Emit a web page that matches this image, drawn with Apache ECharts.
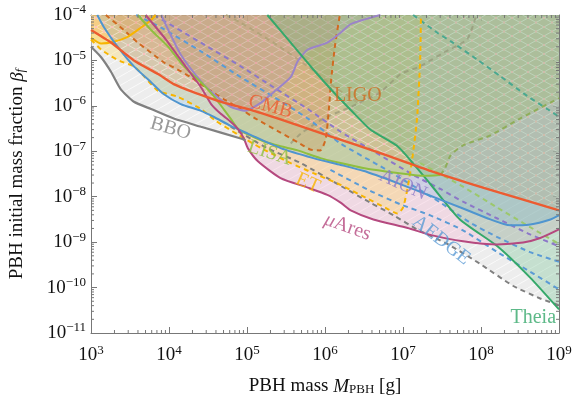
<!DOCTYPE html>
<html><head><meta charset="utf-8">
<script src="https://cdn.jsdelivr.net/npm/echarts@6/dist/echarts.min.js"></script>
<style>html,body{margin:0;padding:0;background:#fff}#c{width:576px;height:401px}</style>
</head><body><div id="c"></div>
<script>
// Values, as [log10(M_PBH / g), log10(beta_f)]
const xTicks = [3, 4, 5, 6, 7, 8, 9];
const yTicks = [-11, -10, -9, -8, -7, -6, -5, -4];
const bbo = [[3.00,-4.70],[3.13,-4.93],[3.26,-5.26],[3.38,-5.63],[3.55,-5.91],[3.77,-6.07],[4.06,-6.28],[4.41,-6.46],[4.92,-6.72],[4.98,-6.76]];
const muAres = [[3.70,-4.00],[3.96,-4.54],[4.22,-5.15],[4.41,-5.59],[4.54,-5.96],[4.66,-6.17],[4.79,-6.35],[4.88,-6.50],[4.96,-6.72],[5.01,-6.93],[5.14,-7.22],[5.43,-7.59],[5.78,-7.80],[6.03,-7.96],[6.20,-8.13],[6.33,-8.30],[6.62,-8.50],[7.06,-8.69],[7.35,-8.84],[7.77,-8.98],[8.21,-9.05],[8.54,-9.01],[8.76,-8.91],[9.00,-8.72]];
const grayDashed = [[4.79,-6.46],[5.26,-6.93],[5.69,-7.26],[6.20,-7.76],[6.58,-8.13],[6.88,-8.41],[7.18,-8.72],[7.57,-9.04],[7.99,-9.48],[8.41,-9.96],[8.76,-10.24],[9.00,-10.39]];
const etDashed = [[3.00,-4.54],[3.13,-4.76],[3.26,-4.91],[3.38,-5.02],[3.55,-5.13],[3.68,-5.35],[3.86,-5.67],[4.11,-5.80],[4.41,-6.07],[4.60,-6.33],[4.88,-6.63],[5.18,-6.93],[5.56,-7.26],[5.85,-7.48],[6.20,-7.74],[6.52,-8.02],[6.77,-8.24],[6.93,-8.37],[7.00,-8.24],[7.06,-7.80],[7.12,-7.15],[7.18,-6.28],[7.22,-4.98],[7.23,-4.00]];
const etSolid = [[3.00,-4.50],[3.13,-4.63],[3.29,-4.59],[3.47,-4.48],[3.64,-4.28],[3.77,-4.11],[3.83,-4.00]];
const blueSolid = [[3.08,-4.00],[3.17,-4.28],[3.35,-4.72],[3.55,-5.13],[3.77,-5.48],[3.93,-5.74],[4.15,-5.96],[4.41,-6.11],[4.57,-6.24],[4.79,-6.44],[5.01,-6.61],[5.43,-6.93],[5.85,-7.15],[6.20,-7.30],[6.49,-7.43],[6.93,-7.70],[7.35,-7.98],[7.77,-8.26],[8.12,-8.50],[8.37,-8.63],[8.63,-8.61],[8.89,-8.50],[9.00,-8.41]];
const cmb = [[3.00,-4.33],[3.26,-4.61],[3.55,-5.00],[3.86,-5.30],[4.06,-5.52],[4.41,-5.76],[4.70,-5.93],[5.05,-6.09],[5.43,-6.30],[6.07,-6.67],[6.71,-7.04],[7.35,-7.43],[8.12,-7.85],[9.00,-8.30]];
const ligo = [[3.19,-4.00],[3.42,-4.33],[3.60,-4.61],[3.77,-4.83],[3.93,-5.04],[4.11,-5.20],[4.28,-5.37],[4.50,-5.63],[4.70,-5.85],[4.92,-6.07],[5.11,-6.28],[5.43,-6.59],[5.65,-6.80],[5.81,-6.96],[5.94,-6.98],[6.01,-6.72],[6.05,-6.07],[6.08,-5.41],[6.13,-4.65],[6.19,-4.00]];
const lisa = [[3.60,-4.00],[3.77,-4.33],[3.99,-4.70],[4.19,-5.13],[4.41,-5.48],[4.57,-5.78],[4.70,-6.07],[4.79,-6.28],[4.88,-6.50],[5.01,-6.63],[5.21,-6.78],[5.43,-6.89],[5.65,-6.98],[5.94,-7.15],[6.20,-7.26],[6.49,-7.37],[6.93,-7.48],[7.26,-7.54],[7.48,-7.52]];
const lisaDashed = [[7.48,-7.52],[7.54,-7.37],[7.61,-7.09],[7.77,-6.87],[8.12,-6.65],[8.50,-6.28],[9.00,-5.83]];
const theia = [[5.26,-4.00],[5.56,-4.61],[5.85,-5.20],[6.11,-5.70],[6.33,-6.09],[6.58,-6.52],[6.93,-6.89],[7.18,-7.37],[7.35,-7.72],[7.73,-8.50],[8.21,-9.09],[8.63,-9.78],[9.00,-10.48]];
const theiaDashed = [[7.13,-4.00],[7.44,-4.39],[7.64,-4.61],[7.95,-4.98],[8.25,-5.35],[8.59,-5.78],[8.85,-6.07],[9.00,-6.24]];
const aion = [[3.90,-4.00],[4.15,-4.87],[4.41,-5.46],[4.60,-5.78],[4.79,-6.02],[4.98,-6.11],[5.18,-5.93],[5.34,-5.70],[5.56,-5.37],[5.65,-5.02],[5.78,-4.76],[6.03,-4.61],[6.20,-4.39],[6.33,-4.20],[6.71,-4.00]];
const purpleDashed = [[3.81,-4.00],[4.41,-4.61],[4.92,-5.13],[5.34,-5.59],[5.78,-6.07],[6.20,-6.57],[6.71,-7.09],[7.13,-7.52],[7.48,-7.83],[7.77,-8.11],[8.21,-8.48],[8.63,-8.83],[9.00,-9.09]];
const blueDashed = [[3.58,-4.00],[3.90,-4.28],[4.41,-4.80],[4.92,-5.37],[5.34,-5.80],[5.78,-6.28],[6.20,-6.83],[6.71,-7.33],[7.13,-7.76],[7.48,-8.13],[7.86,-8.57],[8.21,-8.89],[8.63,-9.22],[9.00,-9.43]];
const aedgeDashed = [[6.07,-7.41],[6.58,-7.87],[6.97,-8.17],[7.35,-8.41],[7.77,-8.74],[8.21,-9.22],[8.63,-9.65],[9.00,-10.04]];
const greenDashed = [[7.22,-7.26],[7.73,-7.74],[8.21,-8.24],[8.63,-8.67],[9.00,-9.04]];
const oliveRising = [[5.56,-6.83],[5.69,-6.61],[5.98,-6.28],[6.36,-6.00],[6.71,-5.70],[6.97,-5.30],[7.22,-5.13],[7.52,-4.83],[7.82,-4.54],[7.90,-4.22],[7.94,-4.00]];
const oliveDiag = [[4.73,-4.00],[4.92,-4.17],[5.34,-4.61],[5.78,-5.13],[6.11,-5.57],[6.45,-5.96]];
const labels = [
  {name:'BBO', pos:[4.02,-6.50], rot:-16, color:'#7f7f7f'},
  {name:'CMB', pos:[5.30,-6.02], rot:-15, color:'#ec5b30'},
  {name:'LIGO', pos:[6.42,-5.78], rot:0, color:'#d06a20'},
  {name:'LISA', pos:[5.29,-7.04], rot:-18, color:'#8fbf3f'},
  {name:'ET', pos:[5.78,-7.70], rot:-24, color:'#f7b500'},
  {name:'{i|μ}Ares', pos:[6.29,-8.67], rot:-20, color:'#b5497f'},
  {name:'AION', pos:[7.00,-7.74], rot:-24, color:'#8c78c8'},
  {name:'AEDGE', pos:[7.49,-8.96], rot:-38, color:'#5b9bd5'},
  {name:'Theia', pos:[8.67,-10.67], rot:0, color:'#35a86a'}
];

const FONT = 'Liberation Serif';
function pattern(fill, line, cross, dot) {
  const c = document.createElement('canvas'); c.width = 16; c.height = 9;
  const g = c.getContext('2d');
  g.fillStyle = fill; g.fillRect(0, 0, 16, 9);
  g.strokeStyle = line; g.lineWidth = 0.8;
  g.beginPath();
  for (const dx of [-16, 0, 16]) { g.moveTo(dx, 9); g.lineTo(dx + 16, 0); }
  if (cross) for (const dx of [-16, 0, 16]) { g.moveTo(dx, 0); g.lineTo(dx + 16, 9); }
  g.stroke();
  if (dot) { g.fillStyle = dot; g.fillRect(7, 3.5, 2, 2); g.fillRect(-1, -1, 2, 2); g.fillRect(15, -1, 2, 2); g.fillRect(-1, 8, 2, 2); g.fillRect(15, 8, 2, 2); }
  return {image: c, repeat: 'repeat'};
}
function fill(data, color, z) {
  return {type:'line', data, smooth:0.2, showSymbol:false, silent:true, z: z || 1,
    lineStyle:{width:0}, areaStyle:{origin:'end', color, opacity:1}};
}
function line(data, color, dashed, w, op) {
  return {type:'line', data, smooth:0.2, showSymbol:false, silent:true, z:5,
    lineStyle:{color, width: w || 2, type: dashed ? [5,4] : 'solid', opacity: op || 1}};
}
const bboFill = bbo.concat(muAres.filter(p => p[0] > 4.99 && p[0] < 7.1), grayDashed.filter(p => p[0] > 7.1));

const minorX = []; for (let n = 3; n < 9; n++) for (let k = 2; k <= 9; k++) minorX.push([n + Math.log10(k)]);
const minorY = []; for (let n = -11; n < -4; n++) for (let k = 2; k <= 9; k++) minorY.push([n + Math.log10(k)]);
const tickCol = '#777';

const supX = v => '{b|10}{s|' + v + '}';
const supY = v => '{b|10}{s|−' + Math.abs(v) + '}';
const rich = {b:{fontSize:19, fontFamily:FONT, color:'#111'}, s:{fontSize:13, fontFamily:FONT, color:'#111', padding:[0,0,10,0]}};

const chart = echarts.init(document.getElementById('c'), null, {renderer:'canvas'});
chart.setOption({
  animation:false,
  grid:{left:90, right:17, top:15, bottom:64},
  xAxis:[
    {type:'value', min:3, max:9, interval:1, position:'bottom',
     axisLine:{lineStyle:{color:tickCol}}, axisTick:{inside:true, length:6, lineStyle:{color:tickCol}},
     splitLine:{show:false}, axisLabel:{formatter:supX, rich, margin:11},
     name:'{n|PBH mass }{i|M}{sub|PBH}{n| [g]}', nameLocation:'middle', nameGap:44,
     nameTextStyle:{rich:{n:{fontSize:19, fontFamily:FONT, color:'#111'}, i:{fontSize:19, fontFamily:FONT, fontStyle:'italic', color:'#111'}, sub:{fontSize:13, fontFamily:FONT, color:'#111', padding:[6,0,0,0]}}}},
    {type:'value', min:3, max:9, interval:1, position:'top',
     axisLine:{lineStyle:{color:tickCol}}, axisTick:{inside:true, length:6, lineStyle:{color:tickCol}},
     axisLabel:{show:false}, splitLine:{show:false}}
  ],
  yAxis:[
    {type:'value', min:-11, max:-4, interval:1, position:'left',
     axisLine:{show:true, lineStyle:{color:tickCol}}, axisTick:{show:true, inside:true, length:6, lineStyle:{color:tickCol}},
     splitLine:{show:false}, axisLabel:{formatter:supY, rich, margin:5},
     name:'{n|PBH initial mass fraction }{i|β}{sub|f}', nameLocation:'middle', nameGap:64, nameRotate:90,
     nameTextStyle:{rich:{n:{fontSize:19, fontFamily:FONT, color:'#111'}, i:{fontSize:19, fontFamily:FONT, fontStyle:'italic', color:'#111'}, sub:{fontSize:13, fontFamily:FONT, fontStyle:'italic', color:'#111', padding:[6,0,0,0]}}}},
    {type:'value', min:-11, max:-4, interval:1, position:'right',
     axisLine:{show:true, lineStyle:{color:tickCol}}, axisTick:{show:true, inside:true, length:6, lineStyle:{color:tickCol}},
     axisLabel:{show:false}, splitLine:{show:false}}
  ],
  series:[
    fill(bboFill, pattern('rgba(222,222,222,0.55)', 'rgba(255,255,255,0.9)', false)),
    fill(muAres, 'rgba(245,165,200,0.28)'),
    fill(etSolid, 'rgba(255,200,60,0.35)'),
    fill(etDashed, 'rgba(255,215,80,0.30)'),
    fill(blueSolid, 'rgba(110,175,225,0.26)'),
    fill(lisa.concat(lisaDashed.slice(1)), 'rgba(170,210,100,0.28)'),
    fill(cmb, pattern('rgba(240,140,80,0.20)', 'rgba(255,255,255,0.55)', true, 'rgba(255,190,190,0.9)')),
    fill(ligo, 'rgba(215,120,50,0.20)'),
    fill(aion, 'rgba(160,130,200,0.14)'),
    fill(theia, 'rgba(80,180,120,0.26)'),
    line(oliveDiag, '#a8a070', true, 2, 0.7),
    line(oliveRising, '#8f8f72', true, 2, 0.6),
    line(greenDashed, '#9cc86c', true, 2),
    line(blueDashed, '#5b9bd5', true, 2),
    line(purpleDashed, '#8c78c8', true, 2),
    line(aedgeDashed, '#5b9bd5', true, 2),
    line(theiaDashed, '#4aa890', true, 2),
    line(grayDashed, '#808080', true, 2),
    line(etDashed, '#f7b500', true, 2),
    line(ligo, '#d06a20', true, 2),
    line(lisaDashed, '#8fae5a', true, 2),
    line(etSolid, '#f7b500', false, 2),
    line(aion, '#9b84c8', false, 2),
    line(theia, '#35a86a', false, 2),
    line(lisa, '#8fbf3f', false, 2),
    line(blueSolid, '#4f95cf', false, 2),
    line(muAres, '#b5497f', false, 2),
    line(bbo, '#808080', false, 2.2),
    line(cmb, '#ec5b30', false, 2.4),
    {type:'custom', silent:true, z:6, data:minorX, renderItem:(p, api) => {
      const v = api.value(0); const a = api.coord([v, -11]); const b = api.coord([v, -4]);
      return {type:'group', children:[
        {type:'line', shape:{x1:a[0], y1:a[1], x2:a[0], y2:a[1]-3}, style:{stroke:tickCol, lineWidth:1}},
        {type:'line', shape:{x1:b[0], y1:b[1], x2:b[0], y2:b[1]+3}, style:{stroke:tickCol, lineWidth:1}}]};
    }},
    {type:'custom', silent:true, z:6, data:minorY, renderItem:(p, api) => {
      const v = api.value(0); const a = api.coord([3, v]); const b = api.coord([9, v]);
      return {type:'group', children:[
        {type:'line', shape:{x1:a[0], y1:a[1], x2:a[0]+3, y2:a[1]}, style:{stroke:tickCol, lineWidth:1}},
        {type:'line', shape:{x1:b[0], y1:b[1], x2:b[0]-3, y2:b[1]}, style:{stroke:tickCol, lineWidth:1}}]};
    }},
    {type:'scatter', silent:true, z:10, symbolSize:1, itemStyle:{color:'rgba(0,0,0,0)'},
     data: labels.map(l => ({value:l.pos, label:{show:true, position:'inside', formatter:l.name, rotate:l.rot,
       color:l.color, fontSize:20, fontFamily:FONT, rich:{i:{fontSize:20, fontFamily:FONT, fontStyle:'italic', color:l.color}}}}))}
  ]
});
</script>
</body></html>
